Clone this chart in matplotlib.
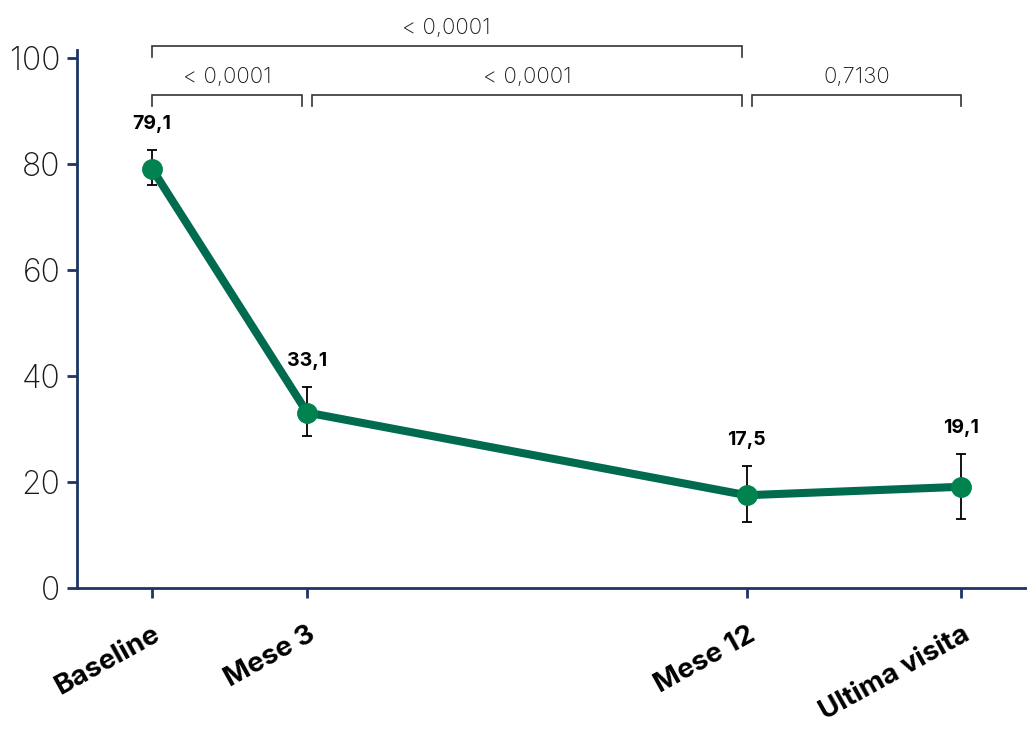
import matplotlib
matplotlib.use("Agg")
import matplotlib.pyplot as plt

# follow-up visits
visits = ["Baseline", "Mese 3", "Mese 12", "Ultima visita"]
means = [79.1, 33.1, 17.5, 19.1]
ci_low = [76.0, 28.7, 12.5, 13.1]
ci_high = [82.6, 38.0, 23.0, 25.3]
mean_labels = ["79,1", "33,1", "17,5", "19,1"]

# pairwise comparisons: (from visit, to visit, p value)
comparisons = [(0, 2, "< 0,0001"), (0, 1, "< 0,0001"), (1, 2, "< 0,0001"), (2, 3, "0,7130")]

xpos = [0, 3, 11.5, 15.65]

navy = "#1c3566"
green_line = "#006b4f"
green_dot = "#00834f"

plt.rcParams["font.family"] = ["Inter", "DejaVu Sans"]

fig = plt.figure(figsize=(10.27, 7.29), dpi=100)
ax = fig.add_axes([77 / 1027, 1 - 588 / 729, 950 / 1027, 538 / 729])

ax.plot(xpos, means, color=green_line, lw=5.8, zorder=2, solid_capstyle="round")
err = [[m - lo for m, lo in zip(means, ci_low)], [hi - m for m, hi in zip(means, ci_high)]]
ax.errorbar(xpos, means, yerr=err, fmt="none", ecolor="black", elinewidth=1.3,
            capsize=3.5, capthick=1.3, zorder=3)
ax.plot(xpos, means, "o", color=green_dot, ms=14, zorder=4)

for x, hi, lab in zip(xpos, ci_high, mean_labels):
    ax.text(x, hi + 3.2, lab, ha="center", va="bottom", fontsize=14, fontweight="bold")

ax.set_xlim(-1.45, 16.92)
ax.set_ylim(0, 101.5)
ax.set_yticks([0, 20, 40, 60, 80, 100])
ax.set_xticks(xpos)
ax.set_xticklabels(visits, rotation=29, ha="right", va="top", rotation_mode="anchor",
                   fontsize=20, fontweight="bold")
for t in ax.get_yticklabels():
    t.set_fontsize(23)
    t.set_fontweight("light")

for s in ["top", "right"]:
    ax.spines[s].set_visible(False)
for s in ["left", "bottom"]:
    ax.spines[s].set_color(navy)
    ax.spines[s].set_linewidth(2)
ax.tick_params(axis="both", colors=navy, width=2, length=7)
ax.tick_params(axis="x", labelcolor="black", pad=17)
ax.tick_params(axis="y", labelcolor="#1a1a1a", pad=5)

# p value brackets above the plot
gap = 0.1
for i, j, p in comparisons:
    x0, x1 = xpos[i], xpos[j]
    if j - i > 1:
        y, drop = 102.3, 2.1
        x1 -= gap
    else:
        y, drop = 93.0, 2.0
        if i > 0:
            x0 += gap
        if j < 3:
            x1 -= gap
    ax.plot([x0, x0, x1, x1], [y - drop, y, y, y - drop], color="#333333", lw=1.2,
            clip_on=False, solid_joinstyle="miter")
    ax.text((x0 + x1) / 2, y + 1.5, p, ha="center", va="bottom", fontsize=16,
            fontweight="light", color="#1a1a1a", clip_on=False)

fig.savefig("out.png", dpi=100)
